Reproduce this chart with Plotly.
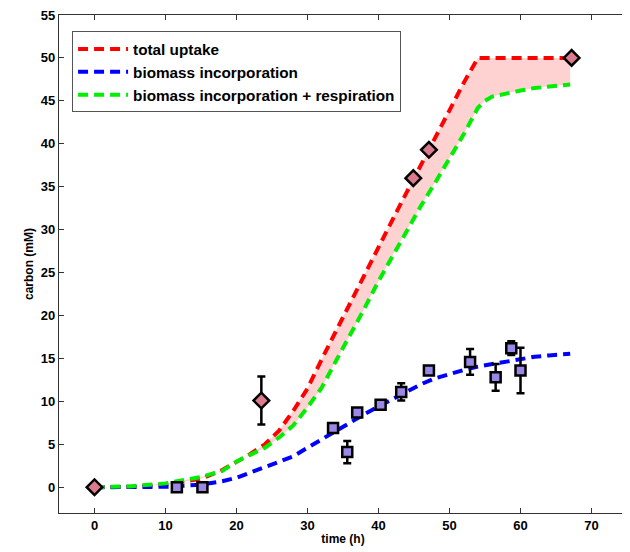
import plotly.graph_objects as go

# model curves
t_curve = [0, 5, 10, 15, 18, 20, 22, 24, 26, 28, 30, 32, 34, 36, 38, 40, 42, 44, 46, 48,
           50, 52, 54, 55, 56, 58, 60, 62, 64, 67]
total_uptake = [0, 0.05, 0.3, 1.0, 2.0, 2.9, 3.9, 5.0, 6.6, 8.9, 11.5, 14.9, 18.2, 21.5, 24.8,
                28.0, 31.2, 34.4, 37.5, 40.7, 43.9, 47.1, 50, 50, 50, 50, 50, 50, 50, 50]
biomass = [0, 0.0, 0.05, 0.3, 0.7, 1.1, 1.7, 2.3, 3.0, 3.6, 4.6, 5.6, 6.6, 7.6, 8.5, 9.4,
           10.3, 11.2, 12.0, 12.7, 13.2, 13.65, 14.05, 14.2, 14.4, 14.7, 15.0, 15.2, 15.35, 15.55]
biomass_resp = [0, 0.1, 0.45, 1.2, 1.9, 3.0, 3.8, 4.6, 5.8, 7.2, 9.3, 11.6, 14.7, 17.7, 20.8,
                24.0, 27.0, 30.0, 32.8, 35.5, 38.3, 41.1, 44.2, 45.0, 45.5, 45.9, 46.2, 46.5,
                46.7, 46.9]

# measurements
t_diam = [0, 23.5, 44.9, 47.1, 67.2]
c_diam = [0, 10.1, 36.0, 39.3, 50.0]
err_diam = [0, 2.8, 0, 0, 0]

t_sq = [11.6, 15.2, 33.6, 35.6, 37.0, 40.3, 43.2, 47.1, 52.9, 56.5, 58.7, 60.0]
c_sq = [0, 0, 6.9, 4.1, 8.7, 9.6, 11.1, 13.6, 14.6, 12.8, 16.2, 13.6]
err_sq = [0, 0, 0.3, 1.3, 0, 0, 1.0, 0, 1.5, 1.55, 0.8, 2.65]

x_ticks = [0, 10, 20, 30, 40, 50, 60, 70]
y_ticks = [0, 5, 10, 15, 20, 25, 30, 35, 40, 45, 50, 55]

FONT = "Liberation Sans, Arial, sans-serif"
DASH = "10px,6px"

fig = go.Figure()

# shaded band between total uptake and biomass+respiration
fig.add_trace(go.Scatter(x=t_curve, y=total_uptake, mode="lines", line=dict(width=0),
                         showlegend=False, hoverinfo="skip"))
fig.add_trace(go.Scatter(x=t_curve, y=biomass_resp, mode="lines", line=dict(width=0),
                         fill="tonexty", fillcolor="rgba(255,205,205,0.9)",
                         showlegend=False, hoverinfo="skip"))

fig.add_trace(go.Scatter(x=t_curve, y=total_uptake, mode="lines", name="total uptake",
                         legendgroup="a",
                         line=dict(color="#ff0000", width=4, dash=DASH)))
fig.add_trace(go.Scatter(x=t_curve, y=biomass, mode="lines", name="biomass incorporation",
                         legendgroup="b",
                         line=dict(color="#0000ff", width=4, dash=DASH)))
fig.add_trace(go.Scatter(x=t_curve, y=biomass_resp, mode="lines",
                         name="biomass incorporation + respiration", legendgroup="c",
                         line=dict(color="#00ee00", width=4, dash=DASH)))

fig.add_trace(go.Scatter(x=t_sq, y=c_sq, mode="markers", showlegend=False,
                         error_y=dict(type="data", array=err_sq, color="black",
                                      thickness=2.5, width=4),
                         marker=dict(symbol="square", size=10, color="#9b87e6",
                                     line=dict(color="black", width=2.5))))
fig.add_trace(go.Scatter(x=t_diam, y=c_diam, mode="markers", showlegend=False,
                         error_y=dict(type="data", array=err_diam, color="black",
                                      thickness=2.5, width=4),
                         marker=dict(symbol="diamond", size=12, color="#dd7a8e",
                                     line=dict(color="black", width=2.5))))

axis_common = dict(showline=True, linecolor="#333", linewidth=1.3, mirror="ticks",
                   ticks="inside", ticklen=5, tickwidth=1, tickcolor="#333",
                   showgrid=False, zeroline=False, automargin=False,
                   ticklabeloverflow="allow",
                   tickfont=dict(family=FONT, size=13, color="black", weight="bold"))

fig.update_layout(
    width=630, height=552,
    margin=dict(l=51, r=11, t=7, b=47),
    paper_bgcolor="white", plot_bgcolor="white",
    font=dict(family=FONT, color="black"),
    xaxis=dict(range=[-5, 75], tickvals=x_ticks,
               title=dict(text="time (h)", standoff=2,
                          font=dict(family=FONT, size=12, color="black", weight="bold")),
               **axis_common),
    yaxis=dict(range=[-3, 55], tickvals=y_ticks,
               title=dict(text="carbon (mM)", standoff=4,
                          font=dict(family=FONT, size=12, color="black", weight="bold")),
               **axis_common),
    legend=dict(x=0.023, y=0.967, xanchor="left", yanchor="top",
                bgcolor="white", bordercolor="#555", borderwidth=1,
                font=dict(family=FONT, size=15.3, color="black", weight="bold"),
                traceorder="normal", tracegroupgap=6, itemwidth=50),
    showlegend=True,
)

fig.write_html("out.html")
